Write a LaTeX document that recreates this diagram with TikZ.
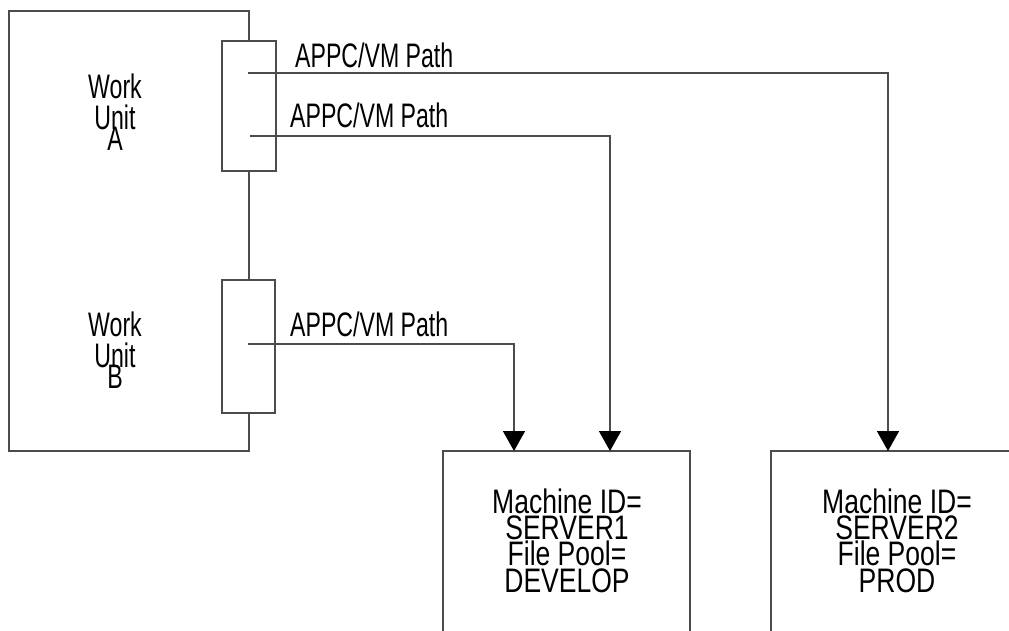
\documentclass[tikz,border=0pt]{standalone}
\usepackage{fontspec}
\newfontfamily\cond{Liberation Sans}[FakeStretch=0.68]
\newfontfamily\condw{Liberation Sans}[FakeStretch=0.78]
\usetikzlibrary{arrows.meta}
\begin{document}
\begin{tikzpicture}[x=1pt,y=-1pt,
  ln/.style={line width=1.6pt, draw=black!70},
  box/.style={ln, rectangle, inner sep=0pt, outer sep=0pt},
  arr/.style={ln, -{Triangle[width=22pt,length=20pt,color=black]}},
  lbl/.style={font=\cond\fontsize{34}{26}\selectfont, anchor=base west, inner sep=0pt},
  wtext/.style={font=\cond\fontsize{34}{22}\selectfont, align=center, inner sep=0pt, anchor=base},
  mtext/.style={font=\condw\fontsize{34}{26.3}\selectfont, align=center, inner sep=0pt, anchor=base}]
\useasboundingbox (0,0) rectangle (1009,630);
\fill[white] (0,0) rectangle (1009,630);
% work unit boxes
\node[box, minimum width=54pt, minimum height=130pt] (ua) at (249,106) {};
\node[box, minimum width=53pt, minimum height=133pt] (ub) at (248.5,346.5) {};
% outer frame
\coordinate (ftr) at (249,11);
\coordinate (fbr) at (249,451);
\draw[ln] (ua.north -| ftr) -- (ftr) -- (9,11) -- (9,451) -- (fbr) -- (ub.south -| fbr);
\draw[ln] (ua.south -| fbr) -- (ub.north -| fbr);
% servers
\node[box, minimum width=247pt, minimum height=210pt, anchor=north west] (s1) at (443,451) {};
\node[box, minimum width=260pt, minimum height=210pt, anchor=north west] (s2) at (771,451) {};
% path start points and targets
\coordinate (a1) at (248,73);
\coordinate (a2) at (250,136);
\coordinate (b1) at (248,344);
\coordinate (t1) at (888,451);
\coordinate (t2) at (610,451);
\coordinate (t3) at (514,451);
\draw[arr] (a1) -| (t1);
\draw[arr] (a2) -| (t2);
\draw[arr] (b1) -| (t3);
% labels
\node[lbl] (l1) at (295,67) {APPC/VM Path};
\node[lbl] (l2) at (290,127) {APPC/VM Path};
\node[lbl] (l3) at (290,336) {APPC/VM Path};
\node[wtext] (wa) at (115,150) {Work\\[5pt]Unit\\[-4pt]A};
\node[wtext] (wb) at (115,388) {Work\\[5pt]Unit\\[-4pt]B};
\node[mtext] (m1) at (567,592) {Machine ID=\\SERVER1\\File Pool=\\DEVELOP};
\node[mtext] (m2) at (897,592) {Machine ID=\\SERVER2\\File Pool=\\PROD};
\end{tikzpicture}
\end{document}
